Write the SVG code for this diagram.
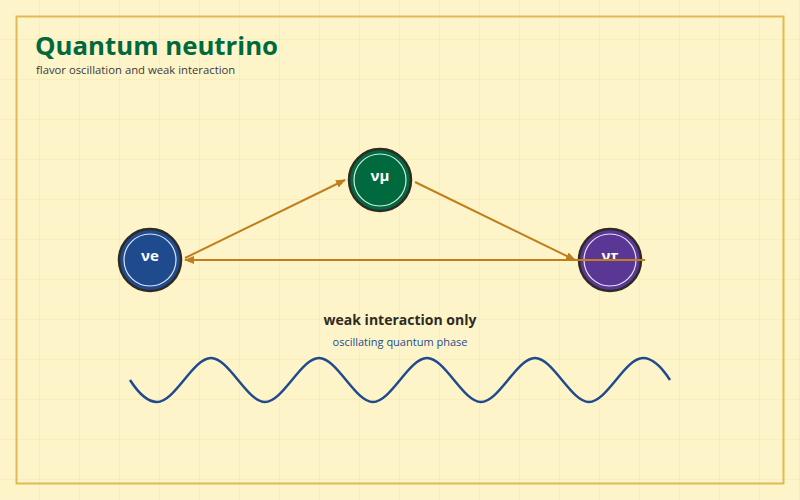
<svg xmlns="http://www.w3.org/2000/svg" width="800" height="500" viewBox="0 0 800 500">
<defs>
<pattern id="grid" width="40" height="40" patternUnits="userSpaceOnUse"><path d="M40 0V40M0 40H40" fill="none" stroke="#f6e6a6" stroke-width="1"/></pattern>
<marker id="arr" markerWidth="10" markerHeight="8" refX="9" refY="4" orient="auto" markerUnits="userSpaceOnUse"><path d="M0 0L10 4L0 8Z" fill="#c27e1c"/></marker>
<style>
.node{stroke:#2e2a24;stroke-width:2.5}
.inner{fill:none;stroke:#fff;stroke-width:1.2;opacity:.85}
.lbl{font-family:"Open Sans","Noto Sans",sans-serif;font-weight:700;font-size:15px;fill:#fff;text-anchor:middle}
.edge{stroke:#c27e1c;stroke-width:2;fill:none}
</style>
</defs>
<rect width="800" height="500" fill="#fdf5c9"/>
<rect width="800" height="500" fill="url(#grid)"/>
<rect x="16.5" y="16.5" width="767" height="467" fill="none" stroke="#e1b954" stroke-width="2"/>
<text x="35" y="55" font-family="'Open Sans','Noto Sans',sans-serif" font-weight="700" font-size="25.8" fill="#00693e">Quantum neutrino</text>
<text x="36" y="74" font-family="'Open Sans','Noto Sans',sans-serif" font-size="11.3" fill="#3a3a3a">flavor oscillation and weak interaction</text>
<g id="connectors">
<line class="edge" x1="185" y1="258" x2="345" y2="180" marker-end="url(#arr)"/>
<line class="edge" x1="415" y1="182" x2="575" y2="260" marker-end="url(#arr)"/>
<line class="edge" x1="645" y1="260" x2="185" y2="260" marker-end="url(#arr)"/>
</g>
<g id="ve"><circle class="node" cx="150" cy="260" r="31" fill="#1f4b8e"/><circle class="inner" cx="150" cy="260" r="26"/><text class="lbl" x="150" y="261">νe</text></g>
<g id="vmu"><circle class="node" cx="380" cy="180" r="31" fill="#00693e"/><circle class="inner" cx="380" cy="180" r="26"/><text class="lbl" x="380" y="181">νμ</text></g>
<g id="vtau"><circle class="node" cx="610" cy="260" r="31" fill="#5a3795"/><circle class="inner" cx="610" cy="260" r="26"/><text class="lbl" x="610" y="261">ντ</text></g>
<line class="edge" x1="575" y1="260" x2="645" y2="260"/>
<text x="400" y="325" text-anchor="middle" font-family="'Open Sans','Noto Sans',sans-serif" font-weight="700" font-size="14" fill="#2e2a24">weak interaction only</text>
<text x="400" y="346" text-anchor="middle" font-family="'Open Sans','Noto Sans',sans-serif" font-size="11" fill="#1f4b8e">oscillating quantum phase</text>
<path d="M130 380 C139 394,148 402,157 402 C175 402,193 358,211 358 C229 358,247 402,265 402 C283 402,301 358,319 358 C337 358,355 402,373 402 C391 402,409 358,427 358 C445 358,463 402,481 402 C499 402,517 358,535 358 C553 358,571 402,589 402 C607 402,625 358,643 358 C652 358,661 366,670 380" fill="none" stroke="#1f4b8e" stroke-width="2.5"/>
</svg>
